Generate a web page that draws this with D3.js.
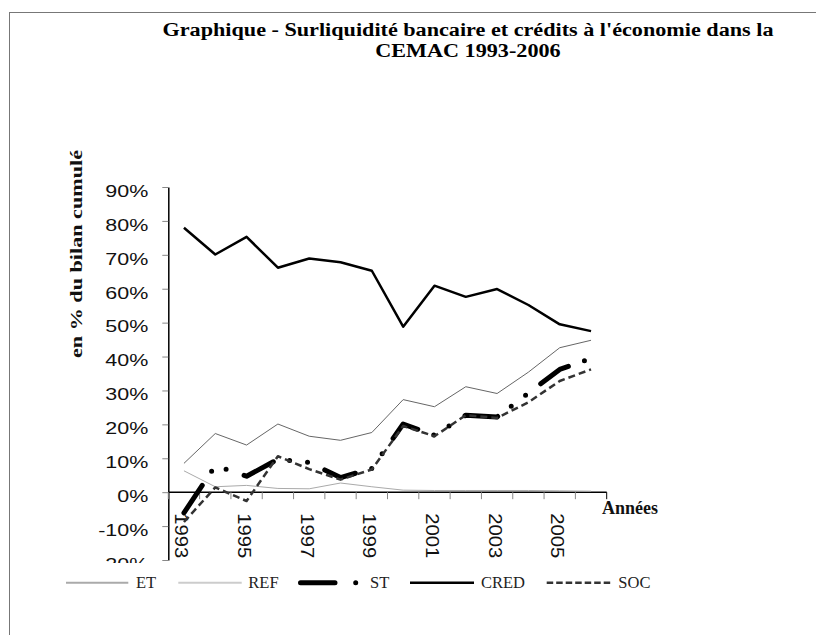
<!DOCTYPE html>
<html>
<head>
<meta charset="utf-8">
<script src="https://cdn.jsdelivr.net/npm/d3@7"></script>
<style>
  body { margin: 0; background: #fff; }
  svg { display: block; }
</style>
</head>
<body>
<script>
// Data
var years = [1993, 1994, 1995, 1996, 1997, 1998, 1999, 2000, 2001, 2002, 2003, 2004, 2005, 2006];
var et   = [8.5, 17.3, 13.9, 20.1, 16.5, 15.3, 17.6, 27.3, 25.2, 31.1, 29.1, 35.4, 42.6, 44.8];
var ref  = [6.3, 1.6, 2.0, 1.1, 1.0, 2.7, 1.6, 0.6, 0.5, 0.5, 0.5, 0.5, 0.4, 0.3];
var st   = [-6.1, 7.8, 4.7, 9.7, 8.8, 4.3, 7.0, 20.1, 16.8, 22.7, 22.2, 29.2, 36.2, 39.4];
var cred = [78.0, 70.1, 75.3, 66.2, 68.9, 67.8, 65.3, 48.8, 60.9, 57.6, 59.9, 55.2, 49.5, 47.5];
var soc  = [-8.8, 1.4, -2.6, 10.6, 6.8, 3.7, 6.7, 19.5, 16.5, 22.7, 21.9, 26.5, 32.8, 36.2];
var yTicks = [-20, -10, 0, 10, 20, 30, 40, 50, 60, 70, 80, 90];
var xLabelYears = [1993, 1995, 1997, 1999, 2001, 2003, 2005];
var seriesNames = ["ET", "REF", "ST", "CRED", "SOC"];

//Settings
var width = 816;
var height = 635;
var plotLeft = 168.3;
var plotRight = 606.7;
var plotTop = 187;
var plotBottom = 560;
var sansFont = "'Liberation Sans', Arial, sans-serif";
var serifFont = "'Liberation Serif', 'Times New Roman', serif";

var svg = d3.select("body").append("svg").attr("width", width).attr("height", height);

//Background + frame
svg.append("rect").attr("x", 0).attr("y", 0).attr("width", width).attr("height", height).attr("fill", "#fff");
svg.append("rect").attr("x", 9.5).attr("y", 12.5).attr("width", 900).attr("height", 700)
    .attr("fill", "none").attr("stroke", "#777").attr("stroke-width", 1);

//Scales
var x = d3.scaleBand().domain(years).range([plotLeft, plotRight]).padding(0);
var y = d3.scaleLinear().domain([-20, 90]).range([plotBottom, plotTop]);
var cx = function(yr) { return x(yr) + x.bandwidth() / 2; };

//Title
var t1 = svg.append("text").attr("x", 468).attr("y", 36).attr("text-anchor", "middle")
    .attr("font-family", serifFont).attr("font-weight", "bold").attr("font-size", 18).attr("fill", "#000")
    .text("Graphique - Surliquidité bancaire et crédits à l'économie dans la");
var t2 = svg.append("text").attr("x", 468).attr("y", 57).attr("text-anchor", "middle")
    .attr("font-family", serifFont).attr("font-weight", "bold").attr("font-size", 18).attr("fill", "#000")
    .text("CEMAC 1993-2006");
var ratio = 611 / t1.node().getComputedTextLength();
t1.attr("textLength", 611).attr("lengthAdjust", "spacingAndGlyphs");
t2.attr("textLength", t2.node().getComputedTextLength() * ratio).attr("lengthAdjust", "spacingAndGlyphs");

//Y axis title
svg.append("text").attr("transform", "translate(82,254) rotate(-90)")
    .attr("text-anchor", "middle").attr("font-family", serifFont).attr("font-weight", "bold")
    .attr("font-size", 17).attr("fill", "#111")
    .attr("textLength", 208).attr("lengthAdjust", "spacingAndGlyphs")
    .text("en % du bilan cumulé");

//Y axis
var yAxis = svg.append("g").attr("transform", "translate(" + plotLeft + ",0)")
    .call(d3.axisLeft(y).tickValues(yTicks).tickSize(6).tickSizeOuter(0).tickFormat(function(d) { return d + "%"; }));
yAxis.select(".domain").attr("stroke", "#000").attr("stroke-width", 1.5);
yAxis.selectAll(".tick line").attr("stroke", "#888");
var yLabels = yAxis.selectAll(".tick text")
    .attr("font-family", sansFont).attr("font-size", 17).attr("fill", "#111")
    .attr("text-anchor", "end").attr("dy", null).attr("y", 9.3);
// stretch labels so "90%" is ~43px wide, like the reference
var ref90 = yLabels.filter(function(d) { return d == 90; }).node().getComputedTextLength();
var sx = 43 / ref90;
yLabels.attr("x", -20 / sx).attr("transform", "scale(" + sx + ",1)");

//X axis (at 0%)
var y0 = y(0);
svg.append("line").attr("x1", plotLeft).attr("x2", plotRight).attr("y1", y0).attr("y2", y0)
    .attr("stroke", "#000").attr("stroke-width", 1.5);
var bounds = years.map(function(d) { return x(d); }).concat([plotRight]);
svg.selectAll(".xtick").data(bounds).enter().append("line").attr("class", "xtick")
    .attr("x1", function(d) { return d; }).attr("x2", function(d) { return d; })
    .attr("y1", y0).attr("y2", y0 + 7)
    .attr("stroke", function(d, i) { return i == bounds.length - 1 ? "#000" : "#888"; });
var xLabels = svg.selectAll(".xlabel").data(xLabelYears).enter().append("text").attr("class", "xlabel")
    .attr("font-family", sansFont).attr("font-size", 17.5).attr("fill", "#111")
    .text(function(d) { return d; });
var sl = 45 / xLabels.node().getComputedTextLength();
xLabels.attr("transform", function(d) { return "translate(" + (cx(d) - 8.5) + "," + (y0 + 21) + ") rotate(90) scale(" + sl + ",1)"; });

svg.append("text").attr("x", 602).attr("y", 513.5).attr("font-family", serifFont).attr("font-weight", "bold")
    .attr("font-size", 18).attr("fill", "#111").text("Années");

//Lines
var line = d3.line().x(function(d, i) { return cx(years[i]); }).y(function(d) { return y(d); });
var styles = [
    {values: et,   stroke: "#666", width: 1,   dash: null, cap: "butt"},
    {values: ref,  stroke: "#aaa", width: 1,   dash: null, cap: "butt"},
    {values: st,   stroke: "#000", width: 5,   dash: "33,17,0,18,0,19", cap: "round"},
    {values: cred, stroke: "#000", width: 2.5, dash: null, cap: "butt"},
    {values: soc,  stroke: "#333", width: 2.5, dash: "7,4", cap: "butt"}
];
styles.forEach(function(s) {
    svg.append("path").datum(s.values).attr("d", line).attr("fill", "none")
        .attr("stroke", s.stroke).attr("stroke-width", s.width)
        .attr("stroke-dasharray", s.dash).attr("stroke-linecap", s.cap).attr("stroke-linejoin", "round");
});

//Legend
svg.append("rect").attr("x", 10).attr("y", 563).attr("width", 700).attr("height", 40).attr("fill", "#fff");
var legendItems = [
    {name: seriesNames[0], x1: 66,    x2: 128.3, stroke: "#aaa", width: 2,   dash: null, cap: "butt", tx: 136},
    {name: seriesNames[1], x1: 178.3, x2: 241.7, stroke: "#ccc", width: 2,   dash: null, cap: "butt", tx: 248.3},
    {name: seriesNames[2], x1: 300.5, x2: 356,   stroke: "#000", width: 5,   dash: "34.5,20.7,0,200", cap: "round", tx: 370},
    {name: seriesNames[3], x1: 410,   x2: 474,   stroke: "#000", width: 2.5, dash: null, cap: "butt", tx: 481},
    {name: seriesNames[4], x1: 546.7, x2: 611,   stroke: "#333", width: 2.5, dash: "6.5,3", cap: "butt", tx: 618.3}
];
var lg = svg.append("g");
legendItems.forEach(function(d) {
    lg.append("line").attr("x1", d.x1).attr("x2", d.x2).attr("y1", 582.7).attr("y2", 582.7)
        .attr("stroke", d.stroke).attr("stroke-width", d.width)
        .attr("stroke-dasharray", d.dash).attr("stroke-linecap", d.cap);
    lg.append("text").attr("x", d.tx).attr("y", 588.3).attr("font-family", serifFont)
        .attr("font-size", 16.5).attr("fill", "#222").text(d.name);
});
</script>
</body>
</html>
